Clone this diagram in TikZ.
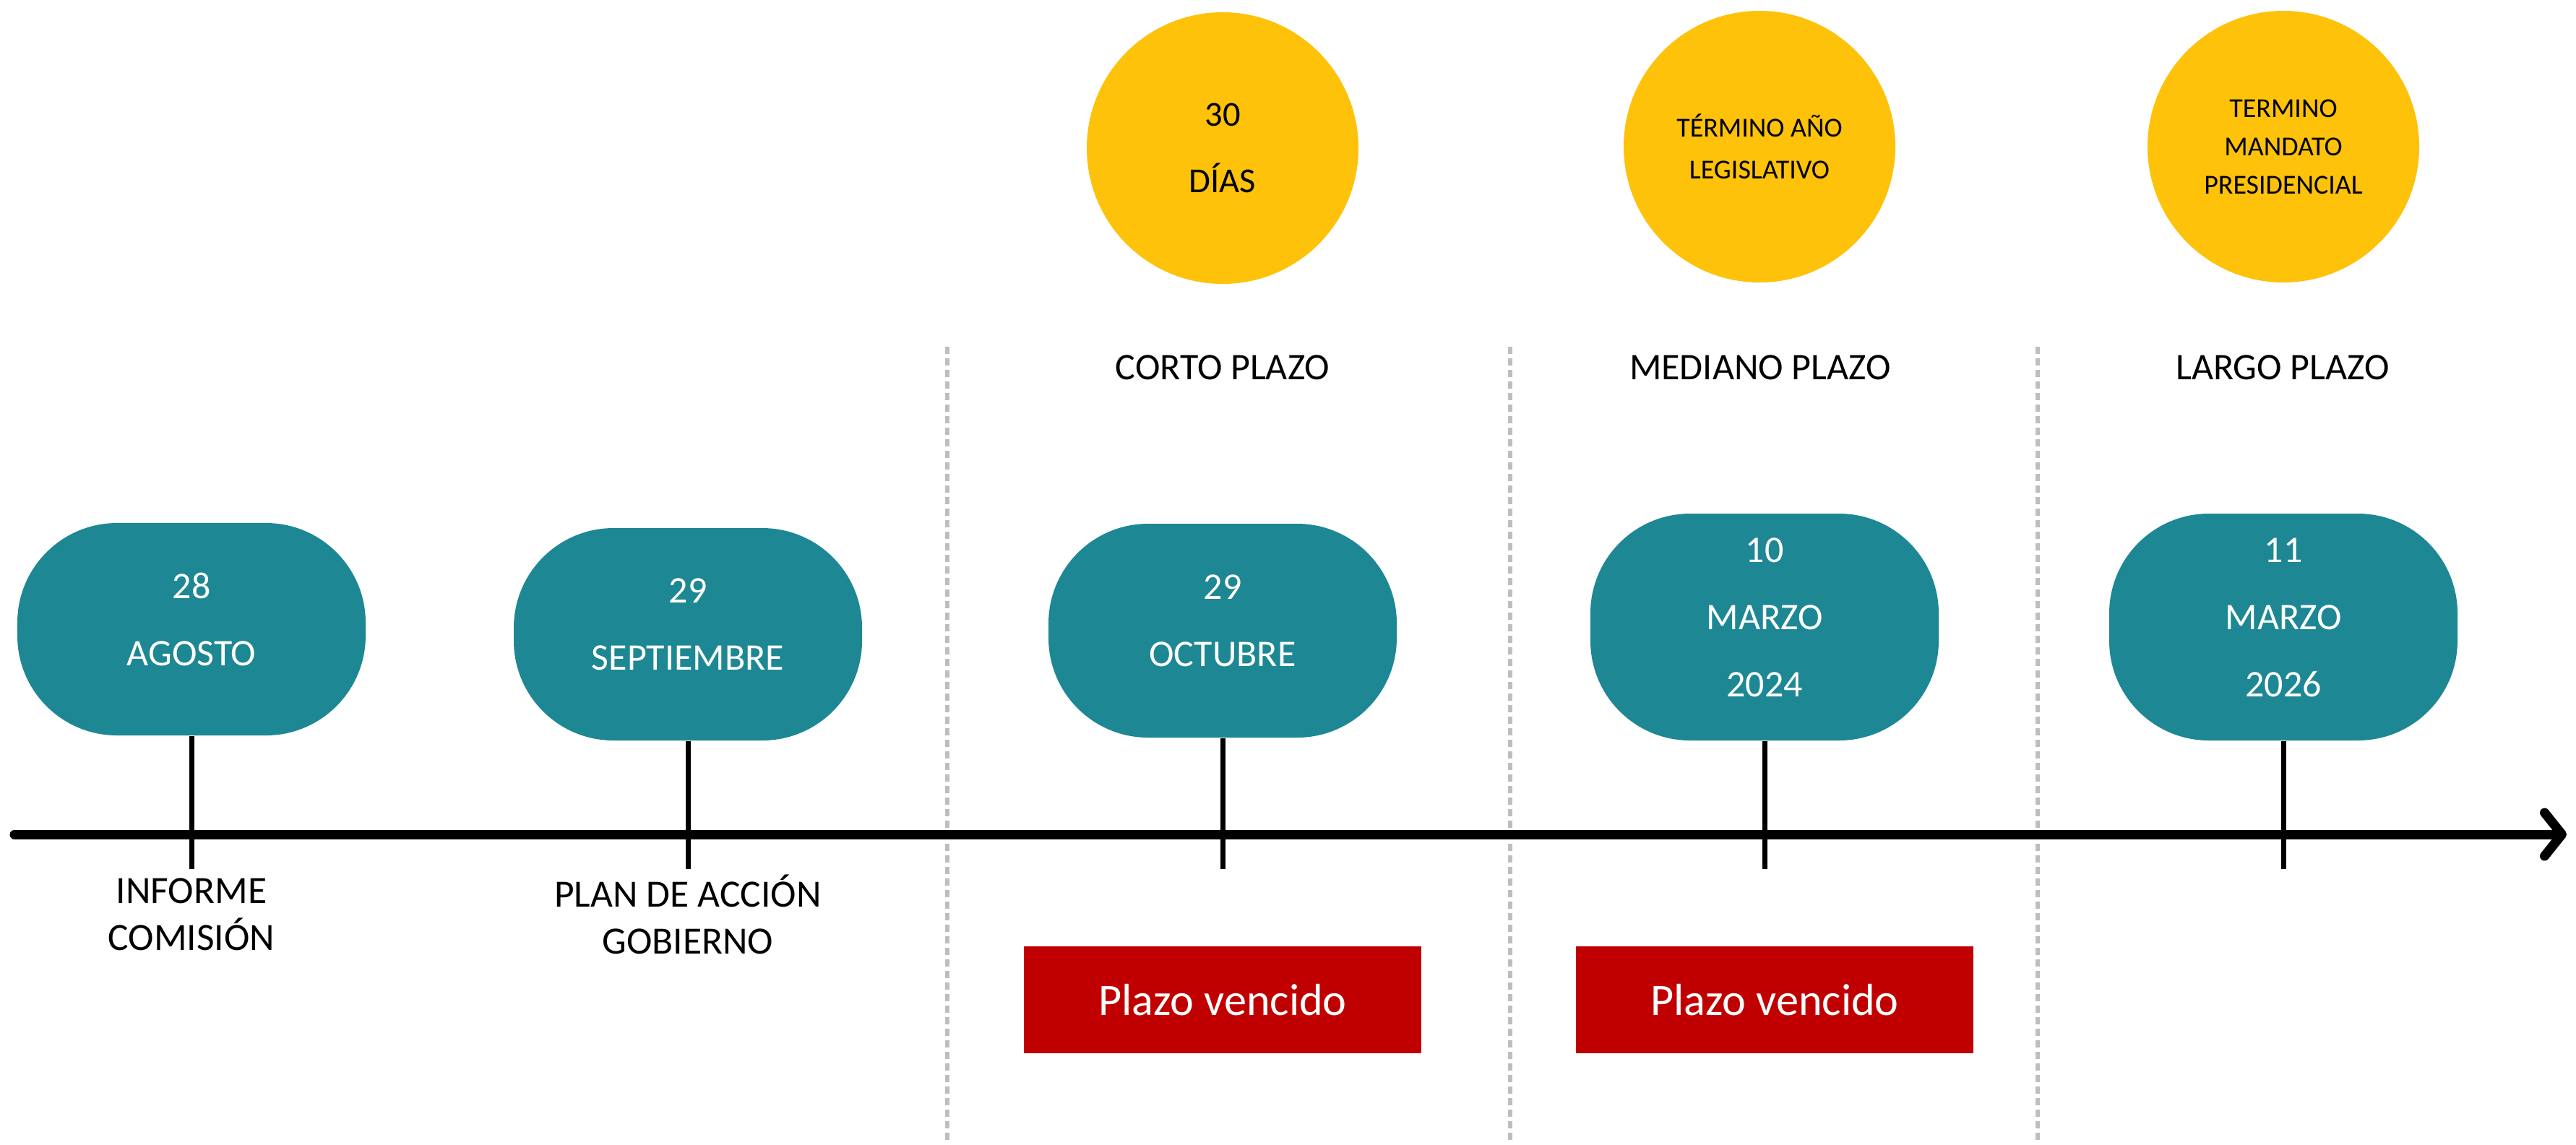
\documentclass[tikz,border=0pt]{standalone}
\usepackage{fontspec}
\setmainfont{Carlito}
\usetikzlibrary{arrows.meta}
\definecolor{teal1}{RGB}{30,135,148}
\definecolor{gold1}{RGB}{253,194,9}
\definecolor{red1}{RGB}{192,0,0}
\definecolor{dotgray}{RGB}{190,190,190}
\newcommand{\liftup}{\rule[-0.27cm]{0pt}{0pt}}
\begin{document}
\begin{tikzpicture}[
  datebox/.style={rectangle, rounded corners=1.38cm, fill=teal1, text=white, minimum width=4.82cm, inner sep=0pt, align=center, font=\fontsize{14.8}{26.5}\selectfont},
  goldcircle/.style={circle, fill=gold1, minimum size=3.76cm, inner sep=0pt, align=center, text=black},
  redbox/.style={rectangle, fill=red1, text=white, minimum width=5.5cm, minimum height=1.48cm, inner sep=0pt, font=\fontsize{17.7}{21}\selectfont},
  termlabel/.style={align=center, inner sep=0pt, font=\fontsize{14.8}{18}\selectfont},
  eventlabel/.style={align=center, inner sep=0pt, font=\fontsize{15.2}{18.5}\selectfont},
  tickline/.style={line width=0.07cm, black},
  sepline/.style={line width=0.065cm, dotgray, dash pattern=on 0.1cm off 0.06cm},
  axisline/.style={line width=0.13cm, black, line cap=round, -{Straight Barb[length=0.24cm, width=0.6cm, line cap=round, line join=round]}}
]
\useasboundingbox (0,0) rectangle (35.65,-15.84);

% dotted separators
\coordinate (s1a) at (13.11,-4.80); \coordinate (s1b) at (13.11,-15.84);
\coordinate (s2a) at (20.90,-4.80); \coordinate (s2b) at (20.90,-15.84);
\coordinate (s3a) at (28.20,-4.80); \coordinate (s3b) at (28.20,-15.84);
\draw[sepline] (s1a) -- (s1b);
\draw[sepline] (s2a) -- (s2b);
\draw[sepline] (s3a) -- (s3b);

% gold circles
\node[goldcircle, font=\fontsize{13.8}{26.2}\selectfont] (c1) at (16.92,-2.05) {30\\DÍAS};
\node[goldcircle, font=\fontsize{10.8}{16.5}\selectfont] (c2) at (24.35,-2.03) {TÉRMINO AÑO\\LEGISLATIVO};
\node[goldcircle, font=\fontsize{10.8}{15.1}\selectfont] (c3) at (31.60,-2.03) {TERMINO\\MANDATO\\PRESIDENCIAL};

% term labels
\node[termlabel] (lc) at (16.92,-5.09) {CORTO PLAZO};
\node[termlabel] (lm) at (24.36,-5.09) {MEDIANO PLAZO};
\node[termlabel] (ll) at (31.59,-5.09) {LARGO PLAZO};

% date boxes
\node[datebox, minimum height=2.94cm] (b1) at (2.65,-8.71) {28\\AGOSTO\liftup};
\node[datebox, minimum height=2.94cm] (b2) at (9.52,-8.78) {29\\SEPTIEMBRE\liftup};
\node[datebox, minimum height=2.96cm] (b3) at (16.92,-8.73) {29\\OCTUBRE\liftup};
\node[datebox, minimum height=3.14cm] (b4) at (24.42,-8.68) {10\\MARZO\\2024\liftup};
\node[datebox, minimum height=3.14cm] (b5) at (31.60,-8.68) {11\\MARZO\\2026\liftup};

% axis
\coordinate (ax0) at (0.20,-11.55);
\coordinate (ax1) at (35.52,-11.55);
\draw[axisline] (ax0) -- (ax1);

% ticks
\coordinate (t1) at (2.65,-12.03);
\coordinate (t2) at (9.52,-12.03);
\coordinate (t3) at (16.92,-12.03);
\coordinate (t4) at (24.42,-12.03);
\coordinate (t5) at (31.60,-12.03);
\draw[tickline] (b1.south) -- (t1);
\draw[tickline] (b2.south) -- (t2);
\draw[tickline] (b3.south) -- (t3);
\draw[tickline] (b4.south) -- (t4);
\draw[tickline] (b5.south) -- (t5);

% event labels
\node[eventlabel] (e1) at (2.65,-12.66) {INFORME\\COMISIÓN};
\node[eventlabel] (e2) at (9.52,-12.66) {PLAN DE ACCIÓN\\GOBIERNO};

% expired boxes
\node[redbox] (r1) at (16.92,-13.84) {Plazo vencido};
\node[redbox] (r2) at (24.56,-13.84) {Plazo vencido};
\end{tikzpicture}
\end{document}
